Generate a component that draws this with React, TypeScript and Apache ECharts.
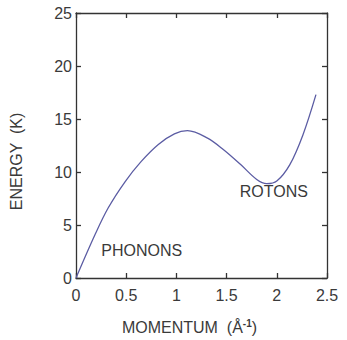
import { useEffect, useRef } from "react";
import * as echarts from "echarts";

// Dispersion curve of superfluid helium: momentum (Å⁻¹) vs energy (K)
const momentum = [0, 0.19, 0.32, 0.49, 0.65, 0.82, 0.98, 1.11, 1.31, 1.47, 1.64, 1.8, 1.9, 2.0, 2.13, 2.26, 2.39];
const energy = [0, 4.1, 6.6, 9.1, 11.0, 12.6, 13.6, 13.9, 13.2, 12.1, 10.7, 9.3, 8.9, 9.15, 10.7, 13.5, 17.3];

const xRange = { min: 0, max: 2.5, interval: 0.5 };
const yRange = { min: 0, max: 25, interval: 5 };

// Region annotations, positioned in data coordinates
const annotations = [
  { text: "PHONONS", x: 0.655, y: 2.55 },
  { text: "ROTONS", x: 1.97, y: 8.2 },
];

const FONT = "'Liberation Sans', Arial, sans-serif";
const TEXT_COLOR = "#3a3a3a";
const FRAME = "#333";

export default function App() {
  const ref = useRef<HTMLDivElement>(null);

  useEffect(() => {
    if (!ref.current) return;
    const chart = echarts.init(ref.current, undefined, { renderer: "svg" });

    const frameAxis = {
      type: "value" as const,
      ...xRange,
      axisLine: { show: true, onZero: false, lineStyle: { color: FRAME, width: 1.3 } },
      axisTick: { show: true, inside: true, length: 5, lineStyle: { color: FRAME, width: 1.3 } },
      splitLine: { show: false },
    };

    chart.setOption({
      animation: false,
      backgroundColor: "#fff",
      textStyle: { fontFamily: FONT },
      grid: { left: 75, top: 13, right: 20, bottom: 61, containLabel: false },
      xAxis: [
        {
          ...frameAxis,
          position: "bottom",
          axisLabel: { margin: 9, color: TEXT_COLOR, fontSize: 16, fontFamily: FONT },
          name: "MOMENTUM  (Å{sup|-1})",
          nameLocation: "middle",
          nameGap: 40,
          nameTextStyle: {
            color: TEXT_COLOR,
            fontSize: 16,
            fontFamily: FONT,
            padding: [0, 24, 0, 0],
            rich: {
              sup: { fontSize: 10, fontWeight: "bold", color: TEXT_COLOR, fontFamily: FONT, padding: [0, 0, 8, 0] },
            },
          },
        },
        { ...frameAxis, position: "top", axisLabel: { show: false } },
      ],
      yAxis: [
        {
          ...frameAxis,
          ...yRange,
          position: "left",
          axisLabel: {
            margin: 4,
            color: TEXT_COLOR,
            fontSize: 16,
            fontFamily: FONT,
            padding: [11, 0, 0, 0],
          },
          name: "ENERGY  (K)",
          nameLocation: "middle",
          nameGap: 52,
          nameTextStyle: {
            color: TEXT_COLOR,
            fontSize: 16,
            fontFamily: FONT,
            padding: [0, 32, 0, 0],
          },
        },
        { ...frameAxis, ...yRange, position: "right", axisLabel: { show: false } },
      ],
      series: [
        {
          type: "line",
          data: momentum.map((m, i) => [m, energy[i]]),
          smooth: 0.35,
          showSymbol: false,
          lineStyle: { color: "#5b5ca3", width: 1.3 },
          xAxisIndex: 0,
          yAxisIndex: 0,
        },
      ],
    });

    chart.setOption({
      graphic: annotations.map((a) => {
        const [px, py] = chart.convertToPixel({ xAxisIndex: 0, yAxisIndex: 0 }, [a.x, a.y]) as number[];
        return {
          type: "text",
          x: px,
          y: py,
          style: {
            text: a.text,
            fill: TEXT_COLOR,
            font: `16px ${FONT}`,
            align: "center",
            verticalAlign: "middle",
          },
        };
      }),
    });

    return () => chart.dispose();
  }, []);

  return <div ref={ref} style={{ position: "absolute", left: 0, top: 0, width: 347, height: 340 }} />;
}
